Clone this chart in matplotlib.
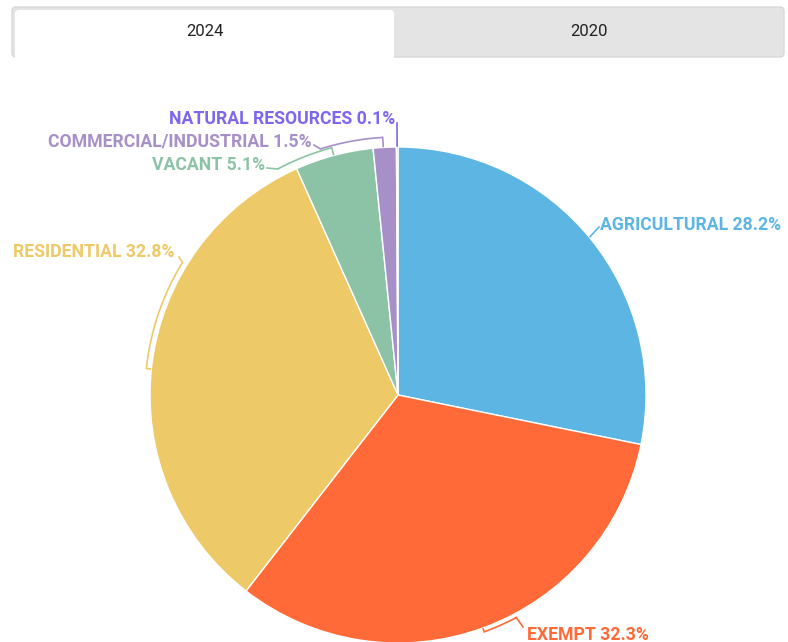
import numpy as np
import matplotlib.pyplot as plt
from matplotlib.patches import FancyBboxPatch

plt.rcParams['font.family'] = ['Roboto', 'DejaVu Sans']

categories = ["AGRICULTURAL", "EXEMPT", "RESIDENTIAL", "VACANT",
              "COMMERCIAL/INDUSTRIAL", "NATURAL RESOURCES"]
shares = [28.2, 32.3, 32.8, 5.1, 1.5, 0.1]
colors = ["#5DB5E4", "#FF6A38", "#EDC967", "#8CC3A6", "#A78FC8", "#7B68EE"]
tabs = ["2024", "2020"]

W, H = 788, 642
cx, cy, R = 398, 395, 248

fig = plt.figure(figsize=(W / 100, H / 100), dpi=100)
ax = fig.add_axes([0, 0, 1, 1])

# pie drawn in pixel space with y pointing down, so counterclock=True reads clockwise
ax.pie(shares, colors=colors, center=(cx, cy), radius=R, startangle=-90,
       counterclock=True, wedgeprops=dict(edgecolor="white", linewidth=1))
ax.set_xlim(0, W)
ax.set_ylim(H, 0)
ax.set_aspect("equal")
ax.axis("off")


def pt(theta, r):
    t = np.radians(theta)
    return cx + r * np.sin(t), cy - r * np.cos(t)


# label callouts: far end (with tick), near end, bracket radius, line end, text pos, align
callouts = {
    "AGRICULTURAL": (50.5, 50.5, R + 1, (599, 227), (600, 229.5), "left"),
    "EXEMPT": (160, 152, R + 4, (523, 627), (527, 639.5), "left"),
    "RESIDENTIAL": (276, 301.6, R + 5, (179, 257), (175, 257), "right"),
    "VACANT": (345, 332, R + 8, (267, 168), (265, 169.5), "right"),
    "COMMERCIAL/INDUSTRIAL": (356.6, 342.5, R + 10, (314, 145), (312, 146.5), "right"),
    "NATURAL RESOURCES": (359.8, 359.8, R + 1, (397, 123), (395, 124.5), "right"),
}

for name, share, color in zip(categories, shares, colors):
    far, near, rb, lend, tpos, ha = callouts[name]
    th = np.linspace(far, near, 60)
    xs, ys = pt(th, rb)
    ax.plot(xs, ys, color=color, lw=1.2, solid_capstyle="butt")
    x0, y0 = pt(far, R + 1)
    x1, y1 = pt(far, rb)
    ax.plot([x0, x1], [y0, y1], color=color, lw=1.2)
    xn, yn = pt(near, rb)
    ax.plot([xn, lend[0]], [yn, lend[1]], color=color, lw=1.2)
    ax.text(tpos[0], tpos[1], f"{name} {share}%", color=color, ha=ha,
            va="baseline", fontsize=12.7, fontweight="bold")

# year tabs
ax.add_patch(FancyBboxPatch((12, 7), 772, 50, boxstyle="round,pad=0,rounding_size=4",
                            facecolor="#E4E4E4", edgecolor="#D9D9D9", lw=1))
ax.add_patch(FancyBboxPatch((15, 10), 379, 52, boxstyle="round,pad=0,rounding_size=4",
                            facecolor="white", edgecolor="none"))
ax.add_patch(plt.Rectangle((0, 57.5), W, 10, facecolor="white", edgecolor="none"))
ax.text(204.5, 31, tabs[0], ha="center", va="center", fontsize=12, color="#222222")
ax.text(589, 31, tabs[1], ha="center", va="center", fontsize=12, color="#222222")

fig.savefig("out.png", dpi=100)
